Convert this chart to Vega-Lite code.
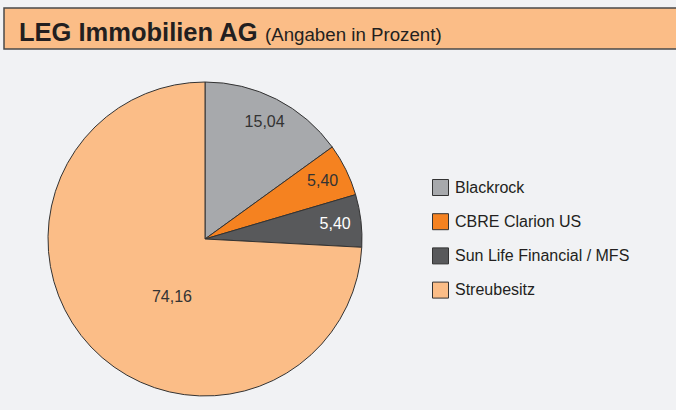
{
  "$schema": "https://vega.github.io/schema/vega-lite/v6.json",
  "background": "#f1f2f4",
  "padding": {"left": 3, "top": 7, "right": 0, "bottom": 0},
  "spacing": 0,
  "config": {
    "font": "Liberation Sans",
    "view": {"stroke": null}
  },
  "vconcat": [
    {
      "width": 680,
      "height": 41,
      "view": {"fill": "#fbbd87", "stroke": "#4a4a4a", "strokeWidth": 1.5},
      "layer": [
        {
          "data": {"values": [{"t": "LEG Immobilien AG"}]},
          "mark": {"type": "text", "align": "left", "baseline": "alphabetic", "font": "Liberation Sans", "fontWeight": "bold", "fontSize": 25.5, "color": "#231f20", "dx": -325, "dy": 12.5},
          "encoding": {"text": {"field": "t"}}
        },
        {
          "data": {"values": [{"t": "(Angaben in Prozent)"}]},
          "mark": {"type": "text", "align": "left", "baseline": "alphabetic", "font": "Liberation Sans", "fontSize": 18.7, "color": "#231f20", "dx": -79, "dy": 12.5},
          "encoding": {"text": {"field": "t"}}
        }
      ]
    },
    {
      "width": 402,
      "height": 378,
      "data": {"values": [
        {"aktionaer": "Blackrock", "anteil": 15.04, "label": "15,04"},
        {"aktionaer": "CBRE Clarion US", "anteil": 5.40, "label": "5,40"},
        {"aktionaer": "Sun Life Financial / MFS", "anteil": 5.40, "label": "5,40"},
        {"aktionaer": "Streubesitz", "anteil": 74.16, "label": "74,16"}
      ]},
      "transform": [
        {"window": [{"op": "row_number", "as": "rang"}]},
        {"stack": "anteil", "groupby": [], "sort": [{"field": "rang", "order": "ascending"}], "as": ["a0", "a1"]},
        {"calculate": "(datum.a0 + datum.a1) / 2", "as": "amid"}
      ],
      "layer": [
        {
          "mark": {"type": "arc", "outerRadius": 157, "stroke": "#333333", "strokeWidth": 1},
          "encoding": {
            "theta": {"field": "a0", "type": "quantitative", "scale": {"domain": [0, 100]}},
            "theta2": {"field": "a1"},
            "color": {
              "field": "aktionaer", "type": "nominal",
              "scale": {
                "domain": ["Blackrock", "CBRE Clarion US", "Sun Life Financial / MFS", "Streubesitz"],
                "range": ["#a7a9ac", "#f58220", "#58595b", "#fbbd87"]
              },
              "legend": {
                "orient": "none", "legendX": 428, "legendY": 171, "title": null,
                "padding": 0,
                "symbolType": "square", "symbolSize": 256,
                "symbolStrokeColor": "#333333", "symbolStrokeWidth": 1,
                "labelFont": "Liberation Sans", "labelFontSize": 16, "labelColor": "#231f20",
                "labelLimit": 400,
                "labelOffset": 6, "rowPadding": 13.2
              }
            }
          }
        },
        {
          "transform": [{"filter": "datum.aktionaer !== 'Streubesitz'"}],
          "mark": {"type": "text", "radius": 131, "align": "center", "baseline": "middle", "font": "Liberation Sans", "fontSize": 16},
          "encoding": {
            "theta": {"field": "amid", "type": "quantitative"},
            "text": {"field": "label"},
            "color": {"condition": {"test": "datum.aktionaer === 'Sun Life Financial / MFS'", "value": "#ffffff"}, "value": "#333333"}
          }
        },
        {
          "transform": [{"filter": "datum.aktionaer === 'Streubesitz'"}],
          "mark": {"type": "text", "radius": 67, "dx": 15.6, "dy": 12, "align": "center", "baseline": "middle", "font": "Liberation Sans", "fontSize": 16, "color": "#333333"},
          "encoding": {
            "theta": {"field": "amid", "type": "quantitative"},
            "text": {"field": "label"}
          }
        }
      ]
    }
  ]
}
